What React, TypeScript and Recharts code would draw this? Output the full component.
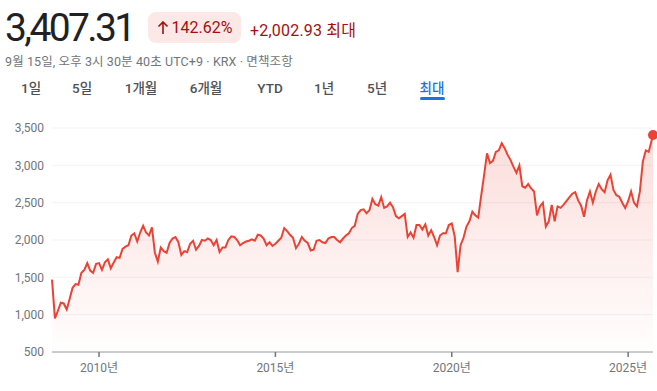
import { AreaChart, Area, XAxis, YAxis, CartesianGrid, ReferenceDot } from 'recharts'

// KOSPI monthly closes (Sep 2008 .. Sep 15 2025)
const close2008 = [1470, 950, 1050, 1160]
const close2009 = [1150, 1070, 1210, 1360, 1410, 1400, 1560, 1600, 1690, 1590, 1560, 1680]
const close2010 = [1690, 1600, 1700, 1740, 1620, 1700, 1770, 1760, 1880, 1910, 1930, 2060]
const close2011 = [2090, 1980, 2100, 2190, 2100, 2060, 2170, 1830, 1710, 1900, 1850, 1830]
const close2012 = [1960, 2020, 2040, 1970, 1800, 1850, 1840, 1950, 1990, 1870, 1920, 2000]
const close2013 = [1990, 2020, 2000, 1930, 2000, 1840, 1900, 1900, 2000, 2050, 2040, 2000]
const close2014 = [1930, 1960, 1980, 1990, 2010, 1990, 2070, 2060, 2020, 1930, 1970, 1920]
const close2015 = [1950, 1990, 2030, 2160, 2120, 2070, 2030, 1890, 1950, 2040, 1990, 1960]
const close2016 = [1860, 1870, 1990, 2000, 1970, 1960, 2020, 2040, 2040, 2000, 1970, 2020]
const close2017 = [2060, 2090, 2160, 2190, 2350, 2400, 2410, 2360, 2400, 2550, 2480, 2460]
const close2018 = [2575, 2430, 2450, 2500, 2440, 2320, 2290, 2320, 2350, 2040, 2100, 2030]
const close2019 = [2200, 2200, 2140, 2210, 2060, 2130, 2040, 1930, 2060, 2090, 2090, 2200]
const close2020 = [2220, 2050, 1570, 1930, 2030, 2180, 2250, 2380, 2330, 2300, 2590, 2870]
const close2021 = [3160, 3030, 3060, 3180, 3200, 3295, 3230, 3140, 3070, 2980, 2900, 3000]
const close2022 = [2720, 2700, 2750, 2690, 2650, 2330, 2450, 2500, 2180, 2250, 2470, 2250]
const close2023 = [2450, 2430, 2470, 2520, 2570, 2620, 2640, 2530, 2460, 2310, 2530, 2650]
const close2024 = [2500, 2650, 2750, 2680, 2640, 2800, 2875, 2670, 2600, 2580, 2500, 2430]
const close2025 = [2520, 2650, 2500, 2450, 2650, 3050, 3200, 3180, 3407.31]

const yearRows: [number, number, number[]][] = [
  [2008, 9, close2008],
  [2009, 1, close2009],
  [2010, 1, close2010],
  [2011, 1, close2011],
  [2012, 1, close2012],
  [2013, 1, close2013],
  [2014, 1, close2014],
  [2015, 1, close2015],
  [2016, 1, close2016],
  [2017, 1, close2017],
  [2018, 1, close2018],
  [2019, 1, close2019],
  [2020, 1, close2020],
  [2021, 1, close2021],
  [2022, 1, close2022],
  [2023, 1, close2023],
  [2024, 1, close2024],
  [2025, 1, close2025],
]

const yTicks = [500, 1000, 1500, 2000, 2500, 3000, 3500]
const xTicks = [2010, 2015, 2020, 2025]
const tabs = ['1일', '5일', '1개월', '6개월', 'YTD', '1년', '5년', '최대']
const activeTab = '최대'
// tab label centres, px
const tabCentres = [31, 82, 141, 206, 270, 324, 377, 432]

const data = yearRows.flatMap(([year, firstMonth, values]) =>
  values.map((v, i) => ({ t: year + (firstMonth - 1 + i) / 12, v }))
)
// last point is Sep 15, not the 1st
data[data.length - 1].t += 14 / 365
const last = data[data.length - 1]

const RED = '#ea4335'
const FONT = "Roboto, 'Noto Sans CJK KR', Arial, sans-serif"

export default function App() {
  return (
    <div style={{ position: 'fixed', left: 0, top: 0, width: 657, height: 391, background: '#fff', fontFamily: FONT, overflow: 'hidden' }}>
      <div style={{ position: 'absolute', left: 5, top: 8, fontSize: 39, lineHeight: '40px', color: '#202124', letterSpacing: -2.6 }}>
        3,407.31
      </div>
      <div style={{ position: 'absolute', left: 148, top: 12, width: 93, height: 31, borderRadius: 8, background: '#fce8e6', color: '#a50e0e', fontSize: 16, display: 'flex', alignItems: 'center', justifyContent: 'center', gap: 3 }}>
        <svg width="12" height="14" viewBox="0 0 12 14">
          <path d="M6 1 L6 13 M1.5 5.5 L6 1 L10.5 5.5" stroke="#a50e0e" strokeWidth="1.6" fill="none" />
        </svg>
        <span>142.62%</span>
      </div>
      <div style={{ position: 'absolute', left: 250, top: 17, fontSize: 16, color: '#a50e0e', letterSpacing: 0.2 }}>+2,002.93 최대</div>
      <div style={{ position: 'absolute', left: 5, top: 51, fontSize: 12.5, color: '#70757a', letterSpacing: 0.1 }}>
        9월 15일, 오후 3시 30분 40초 UTC+9 · KRX · 면책조항
      </div>
      {tabs.map((tab, i) => (
        <div
          key={tab}
          style={{
            position: 'absolute',
            left: tabCentres[i] - 30,
            top: 78,
            width: 60,
            height: 20,
            lineHeight: '20px',
            textAlign: 'center',
            fontSize: 13.5,
            fontWeight: 500,
            color: tab === activeTab ? '#1a73e8' : '#4d5156',
          }}
        >
          {tab}
        </div>
      ))}
      <div style={{ position: 'absolute', left: 420, top: 97, width: 25, height: 3, background: '#1a73e8', borderRadius: 2 }} />

      <div style={{ position: 'absolute', left: 0, top: 120 }}>
        <AreaChart width={657} height={271} data={data} margin={{ top: 8, right: 4, bottom: 0, left: 0 }}>
          <defs>
            <linearGradient id="fillRed" x1="0" y1="0" x2="0" y2="1">
              <stop offset="0%" stopColor={RED} stopOpacity={0.3} />
              <stop offset="100%" stopColor={RED} stopOpacity={0.01} />
            </linearGradient>
          </defs>
          <CartesianGrid vertical={false} stroke="#f1f3f4" />
          <XAxis
            dataKey="t"
            type="number"
            domain={['dataMin', 'dataMax']}
            ticks={xTicks}
            tickFormatter={v => `${v}년`}
            height={39}
            axisLine={{ stroke: '#9aa0a6' }}
            tickLine={{ stroke: '#70757a', strokeWidth: 1.5 }}
            tickSize={5}
            tickMargin={6}
            tick={{ fill: '#70757a', fontSize: 12, fontFamily: FONT }}
          />
          <YAxis
            type="number"
            domain={[500, 3500]}
            ticks={yTicks}
            tickFormatter={v => v.toLocaleString('en-US')}
            width={52}
            axisLine={false}
            tickLine={false}
            tickSize={0}
            tickMargin={8}
            tick={{ fill: '#70757a', fontSize: 12, fontFamily: FONT }}
          />
          <Area
            type="linear"
            dataKey="v"
            stroke={RED}
            strokeWidth={2}
            fill="url(#fillRed)"
            isAnimationActive={false}
            dot={false}
            activeDot={false}
          />
          <ReferenceDot x={last.t} y={last.v} r={5} fill={RED} stroke="none" ifOverflow="visible" />
        </AreaChart>
      </div>
    </div>
  )
}
